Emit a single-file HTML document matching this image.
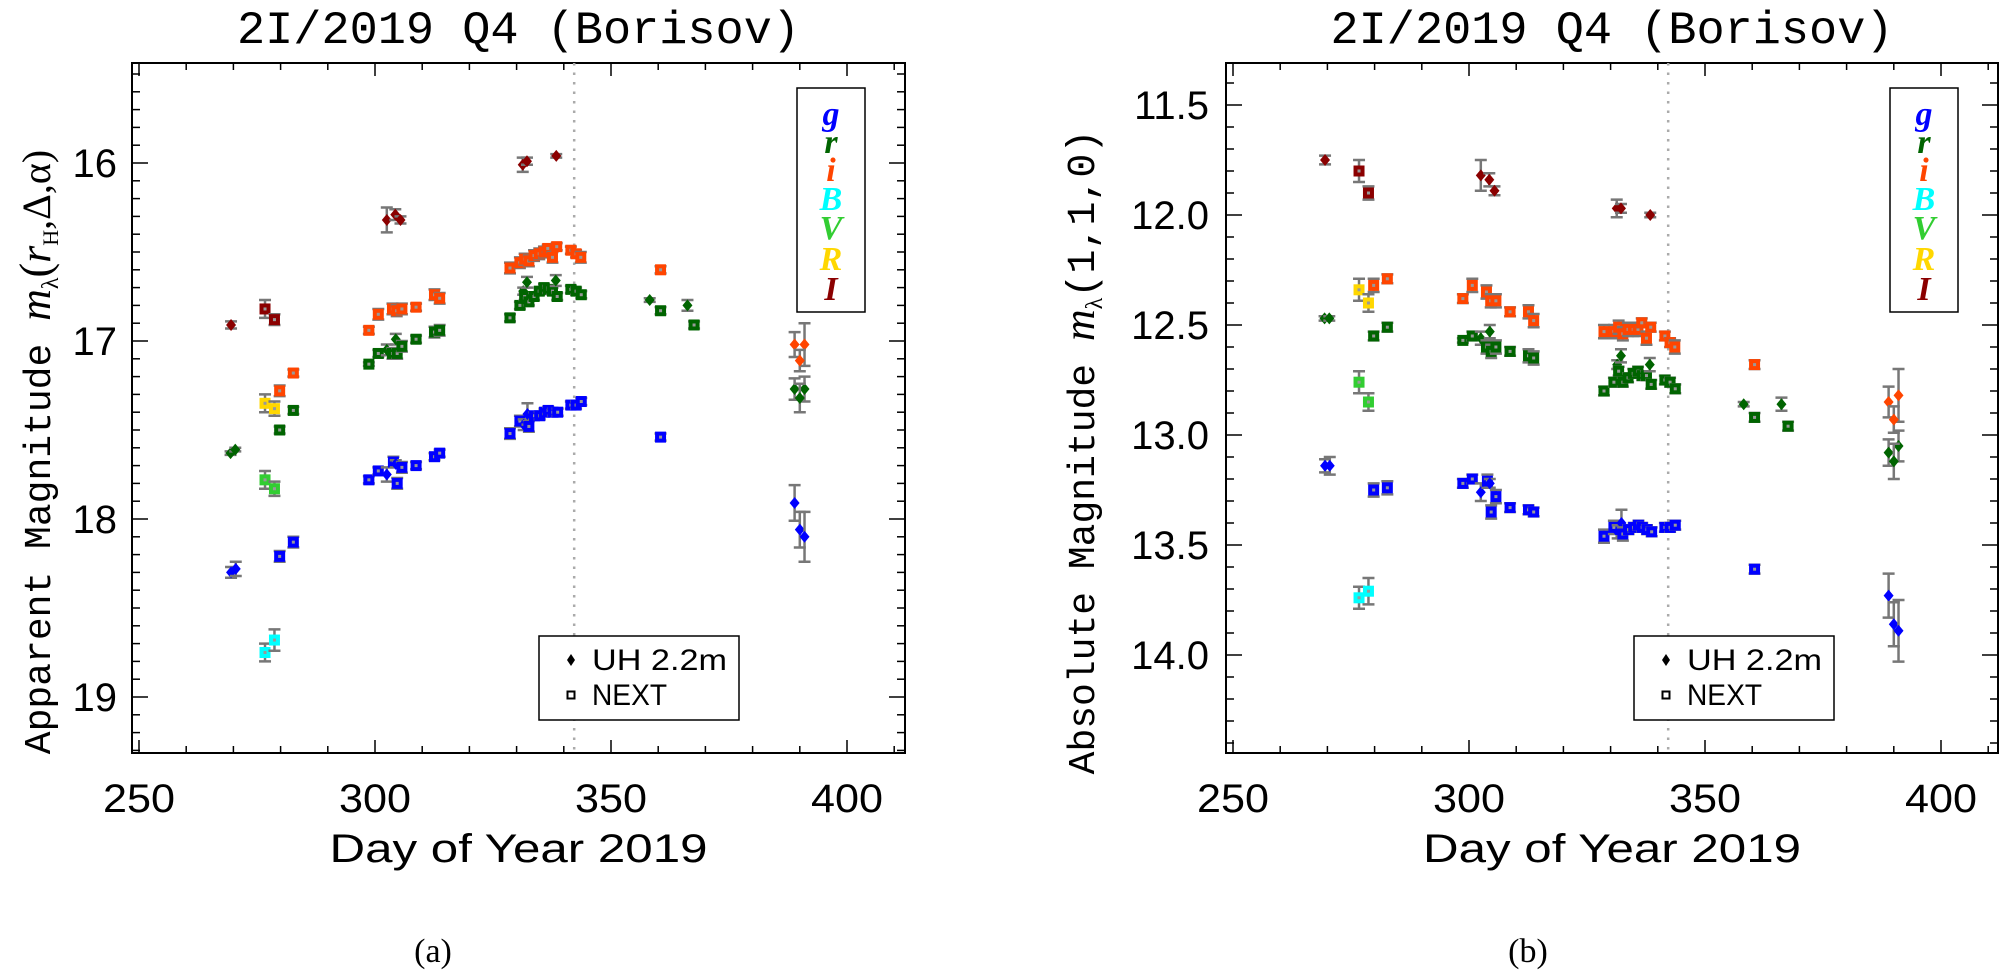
<!DOCTYPE html>
<html><head><meta charset="utf-8"><title>2I/Borisov photometry</title>
<style>
html,body{margin:0;padding:0;background:#fff;}
svg{display:block;font-family:"Liberation Mono","DejaVu Sans Mono",monospace;}
</style></head>
<body>
<svg id="fig" width="2000" height="970" viewBox="0 0 2000 970" xmlns="http://www.w3.org/2000/svg"></svg>
<script>
// ---- data (day of year, instrument U=UH 2.2m / N=NEXT, apparent mag, absolute mag, error) ----
const gDays = [269.5,270.5,279.8,282.7,298.7,300.7,302.5,303.9,304.4,304.7,305.7,308.7,312.6,313.7,328.6,330.7,331.5,332.3,332.6,333.8,334.9,335.9,336.7,337.7,338.7,341.5,342.6,343.7,360.5,388.9,390.0,391.0];
const gInst = ['U','U','N','N','N','N','U','N','U','N','N','N','N','N','N','N','U','U','N','N','N','N','N','N','N','N','N','N','N','U','U','U'];
const gMagA = [18.30,18.28,18.21,18.13,17.78,17.73,17.75,17.68,17.69,17.80,17.71,17.70,17.65,17.63,17.52,17.45,17.47,17.41,17.48,17.42,17.42,17.40,17.39,17.40,17.40,17.36,17.36,17.34,17.54,17.91,18.06,18.10];
const gMagB = [13.14,13.14,13.25,13.24,13.22,13.20,13.26,13.21,13.22,13.35,13.28,13.33,13.34,13.35,13.46,13.42,13.44,13.40,13.45,13.43,13.42,13.41,13.42,13.43,13.44,13.42,13.42,13.41,13.61,13.73,13.86,13.89];
const gErr  = [0.03,0.04,0.03,0.03,0.02,0.02,0.04,0.03,0.02,0.03,0.03,0.02,0.02,0.02,0.03,0.03,0.03,0.06,0.03,0.02,0.02,0.02,0.02,0.02,0.02,0.02,0.02,0.02,0.02,0.10,0.10,0.14];

const rDays = [269.4,270.4,279.8,282.7,298.7,300.7,302.5,303.7,304.4,304.7,305.7,308.7,312.6,313.7,328.6,330.7,331.4,332.2,331.7,332.6,333.7,334.8,335.8,336.7,337.6,338.3,338.6,341.5,342.6,343.7,358.2,360.5,366.2,367.6,388.9,391.0,390.0];
const rInst = ['U','U','N','N','N','N','U','N','U','N','N','N','N','N','N','N','U','U','N','N','N','N','N','N','N','U','N','N','N','N','U','N','U','N','U','U','U'];
const rMagA = [17.63,17.61,17.50,17.39,17.13,17.07,17.05,17.07,16.99,17.07,17.03,16.99,16.95,16.94,16.87,16.80,16.72,16.67,16.75,16.78,16.75,16.72,16.70,16.71,16.72,16.66,16.75,16.71,16.72,16.74,16.77,16.83,16.80,16.91,17.27,17.27,17.32];
const rMagB = [12.47,12.47,12.55,12.51,12.57,12.55,12.56,12.60,12.53,12.62,12.60,12.62,12.64,12.65,12.80,12.76,12.68,12.64,12.71,12.76,12.74,12.72,12.71,12.73,12.73,12.68,12.77,12.75,12.76,12.79,12.86,12.92,12.86,12.96,13.08,13.05,13.12];
const rErr  = [0.01,0.01,0.02,0.02,0.01,0.02,0.03,0.03,0.03,0.03,0.03,0.02,0.03,0.03,0.02,0.02,0.02,0.03,0.02,0.02,0.02,0.02,0.02,0.02,0.02,0.03,0.02,0.02,0.02,0.02,0.01,0.02,0.03,0.02,0.06,0.07,0.08];

const iDays = [279.8,282.7,298.7,300.7,303.7,304.6,305.7,308.7,312.6,313.7,328.6,330.7,331.7,332.6,333.7,334.8,335.8,336.6,337.6,338.5,341.5,342.6,343.6,360.5,388.9,391.0,390.0];
const iInst = ['N','N','N','N','N','N','N','N','N','N','N','N','N','N','N','N','N','N','N','N','N','N','N','N','U','U','U'];
const iMagA = [17.28,17.18,16.94,16.85,16.82,16.83,16.82,16.81,16.74,16.76,16.59,16.56,16.54,16.55,16.52,16.51,16.50,16.48,16.53,16.47,16.49,16.51,16.53,16.60,17.02,17.02,17.11];
const iMagB = [12.32,12.29,12.38,12.32,12.35,12.39,12.39,12.44,12.44,12.48,12.53,12.53,12.51,12.54,12.52,12.52,12.52,12.49,12.56,12.51,12.55,12.58,12.60,12.68,12.85,12.82,12.93];
const iErr  = [0.03,0.02,0.02,0.03,0.03,0.03,0.03,0.02,0.03,0.03,0.03,0.03,0.03,0.03,0.03,0.03,0.03,0.02,0.03,0.02,0.02,0.02,0.03,0.02,0.07,0.12,0.06];

const IDays = [269.5,276.7,278.7,302.5,304.3,305.4,331.3,332.2,338.4];
const IInst = ['U','N','N','U','U','U','U','U','U'];
const IMagA = [16.91,16.82,16.88,16.32,16.29,16.32,16.01,15.99,15.96];
const IMagB = [11.75,11.80,11.90,11.82,11.84,11.89,11.97,11.97,12.00];
const IErr  = [0.02,0.05,0.03,0.07,0.03,0.02,0.04,0.02,0.01];

const BDays = [276.7,278.7]; const BInst = ['N','N']; const BMagA = [18.75,18.68]; const BMagB = [13.74,13.71]; const BErr = [0.05,0.06];
const VDays = [276.7,278.7]; const VInst = ['N','N']; const VMagA = [17.78,17.83]; const VMagB = [12.76,12.85]; const VErr = [0.05,0.04];
const RDays = [276.7,278.7]; const RInst = ['N','N']; const RMagA = [17.35,17.38]; const RMagB = [12.34,12.40]; const RErr = [0.05,0.04];

const bandNames = ['g','r','i','B','V','R','I'];
const xTicks = [250,300,350,400];
const yTicksA = ['16','17','18','19'];
const yTicksB = ['11.5','12.0','12.5','13.0','13.5','14.0'];
const perihelionDay = 342.2;

const NS = 'http://www.w3.org/2000/svg';
const svg = document.getElementById('fig');
function mk(tag, attrs, parent){
  const e = document.createElementNS(NS, tag);
  for (const k in attrs) e.setAttribute(k, attrs[k]);
  (parent||svg).appendChild(e);
  return e;
}
const bands = {
  g:{days:gDays,inst:gInst,a:gMagA,b:gMagB,err:gErr,color:'#0000ff'},
  r:{days:rDays,inst:rInst,a:rMagA,b:rMagB,err:rErr,color:'#006400'},
  i:{days:iDays,inst:iInst,a:iMagA,b:iMagB,err:iErr,color:'#ff4500'},
  B:{days:BDays,inst:BInst,a:BMagA,b:BMagB,err:BErr,color:'#00ffff'},
  V:{days:VDays,inst:VInst,a:VMagA,b:VMagB,err:VErr,color:'#32cd32'},
  R:{days:RDays,inst:RInst,a:RMagA,b:RMagB,err:RErr,color:'#ffd700'},
  I:{days:IDays,inst:IInst,a:IMagA,b:IMagB,err:IErr,color:'#8b0000'}
};

const panels = [
  {key:'a', left:132, right:905, top:63, bottom:753, ymin:15.438, ymax:19.315, refMag:16, refY:163, ppm:178,
   ticks:yTicksA, minor:0.1, labelEnd:117, ytitleX:36, ytitleY:452, legendX:539, cap:'(a)', capX:433, colorBoxX:797},
  {key:'b', left:1226, right:1998, top:63, bottom:753, ymin:11.309, ymax:14.445, refMag:12, refY:215, ppm:220,
   ticks:yTicksB, minor:0.1, labelEnd:1209, ytitleX:1080, ytitleY:452, legendX:1634, cap:'(b)', capX:1528, colorBoxX:1890}
];

panels.forEach(function(p){
  const g = mk('g',{});
  
  
  const X = function(d){ return p.left + 7 + (d - 250) * 4.72; };
  const Y = function(m){ return p.refY + (m - p.refMag) * p.ppm; };
  const dMax = 250 + (p.right - p.left - 7)/4.72;

  const frame = mk('rect',{x:p.left,y:p.top,width:p.right-p.left,height:p.bottom-p.top,fill:'none',stroke:'#000','stroke-width':2},g);
  
  

  for (let d = 250; d <= dMax; d += 10){
    const major = (d % 50 === 0);
    const len = major ? 13 : 7;
    const x = X(d);
    mk('line',{x1:x,x2:x,y1:p.bottom,y2:p.bottom-len,stroke:'#000','stroke-width':1.5},g);
    mk('line',{x1:x,x2:x,y1:p.top,y2:p.top+len,stroke:'#000','stroke-width':1.5},g);
  }
  xTicks.forEach(function(v){
    const t = mk('text',{x:X(v),y:812,'text-anchor':'middle','font-size':40,'font-family':'Liberation Sans, sans-serif',textLength:72,lengthAdjust:'spacingAndGlyphs'},g);
    t.textContent = String(v);
    
    
  });
  const m0 = Math.ceil(p.ymin*10)/10;
  for (let m = m0; m <= p.ymax + 1e-9; m = Math.round((m + p.minor)*10)/10){
    const isMajor = p.key==='a' ? Math.abs(m - Math.round(m)) < 1e-6 : Math.abs(m*2 - Math.round(m*2)) < 1e-6;
    const len = isMajor ? 16 : 8;
    const y = Y(m);
    mk('line',{x1:p.left,x2:p.left+len,y1:y,y2:y,stroke:'#000','stroke-width':1.5},g);
    mk('line',{x1:p.right,x2:p.right-len,y1:y,y2:y,stroke:'#000','stroke-width':1.5},g);
  }
  p.ticks.forEach(function(s){
    const t = mk('text',{x:p.labelEnd,y:Y(parseFloat(s))+14,'text-anchor':'end','font-size':40,'font-family':'Liberation Sans, sans-serif'},g);
    t.textContent = s;
    
    
  });

  const pl = mk('line',{x1:X(perihelionDay),x2:X(perihelionDay),y1:p.top,y2:p.bottom,stroke:'#aaa','stroke-width':2.5,'stroke-dasharray':'2.5 7'},g);
  
  

  bandNames.forEach(function(bn){
    const b = bands[bn];
    const mags = p.key==='a' ? b.a : b.b;
    const sg = mk('g',{},g);
    
    
    for (let k = 0; k < b.days.length; k++){
      const x = X(b.days[k]), y = Y(mags[k]);
      const e = b.err[k]*p.ppm;
      const eb = mk('path',{d:'M'+(x-6)+','+(y-e)+'H'+(x+6)+'M'+x+','+(y-e)+'V'+(y+e)+'M'+(x-6)+','+(y+e)+'H'+(x+6),stroke:'#777','stroke-width':2.5,fill:'none'},sg);
      
      
      let mark;
      if (b.inst[k] === 'U'){
        mark = mk('path',{d:'M'+x+','+(y-6)+'L'+(x+5)+','+y+'L'+x+','+(y+6)+'L'+(x-5)+','+y+'Z',fill:b.color},sg);
      } else {
        mark = mk('rect',{x:x-5.5,y:y-5.5,width:11,height:11,fill:b.color},sg);
        mk('rect',{x:x-1.5,y:y-1.5,width:3,height:3,fill:'#999'},sg);
      }
      
      
    }
  });

  const cl = mk('g',{},g);
  
  
  mk('rect',{x:p.colorBoxX,y:88,width:68,height:224,fill:'#fff',stroke:'#000','stroke-width':1.5},cl);
  const lys = [114,142,170,199,228,259,289];
  bandNames.forEach(function(bn, k){
    const t = mk('text',{x:p.colorBoxX+34,y:lys[k]+11,'text-anchor':'middle','font-size':34,'font-weight':'bold','font-style':'italic','font-family':'Liberation Serif, serif',fill:bands[bn].color},cl);
    t.textContent = bn;
    
    
  });

  const il = mk('g',{},g);
  
  
  mk('rect',{x:p.legendX,y:636,width:200,height:84,fill:'#fff',stroke:'#000','stroke-width':1.5},il);
  const dx = p.legendX + 32;
  mk('path',{d:'M'+dx+','+654+'L'+(dx+4)+','+660+'L'+dx+','+666+'L'+(dx-4)+','+660+'Z',fill:'#000'},il);
  mk('rect',{x:dx-3.5,y:691.5,width:7,height:7,fill:'#fff',stroke:'#000','stroke-width':2},il);
  const t1 = mk('text',{x:dx+21,y:670,'font-size':30,'font-family':'Liberation Sans Narrow, Liberation Sans, sans-serif',textLength:135,lengthAdjust:'spacingAndGlyphs'},il);
  t1.textContent = 'UH 2.2m';
  
  
  const t2 = mk('text',{x:dx+21,y:705,'font-size':30,'font-family':'Liberation Sans Narrow, Liberation Sans, sans-serif',textLength:75,lengthAdjust:'spacingAndGlyphs'},il);
  t2.textContent = 'NEXT';
  
  

  const cx = (p.left + p.right)/2;
  const tt = mk('text',{x:cx,y:43,'text-anchor':'middle','font-size':46,textLength:563,lengthAdjust:'spacingAndGlyphs'},g);
  tt.textContent = '2I/2019 Q4 (Borisov)';
  
  
  const xt = mk('text',{x:cx,y:862,'text-anchor':'middle','font-size':40,'font-family':'Liberation Sans Narrow, Liberation Sans, sans-serif',textLength:378,lengthAdjust:'spacingAndGlyphs'},g);
  xt.textContent = 'Day of Year 2019';
  
  
  const cap = mk('text',{x:p.capX,y:962,'text-anchor':'middle','font-size':34,'font-family':'Liberation Serif, serif'},g);
  cap.textContent = p.cap;
  
  

  const yt = mk('text',{x:0,y:0,'text-anchor':'middle','font-size':38,transform:'translate('+(p.ytitleX+14)+','+p.ytitleY+') rotate(-90)'},g);
  
  
  if (p.key === 'a'){
    yt.innerHTML = 'Apparent Magnitude <tspan font-family="Liberation Serif, serif" font-style="italic" font-size="44">m</tspan><tspan font-size="24" dy="8" font-family="Liberation Serif, serif">λ</tspan><tspan dy="-8" font-family="Liberation Serif, serif" font-size="44">(</tspan><tspan font-family="Liberation Serif, serif" font-style="italic" font-size="44">r</tspan><tspan font-size="22" dy="8" font-family="Liberation Serif, serif">H</tspan><tspan dy="-8" font-family="Liberation Serif, serif" font-size="40">,Δ,α)</tspan>';
  } else {
    yt.innerHTML = 'Absolute Magnitude <tspan font-family="Liberation Serif, serif" font-style="italic" font-size="44">m</tspan><tspan font-size="24" dy="8" font-family="Liberation Serif, serif">λ</tspan><tspan dy="-8" font-size="40">(1,1,0)</tspan>';
  }
});
</script>
</body></html>
